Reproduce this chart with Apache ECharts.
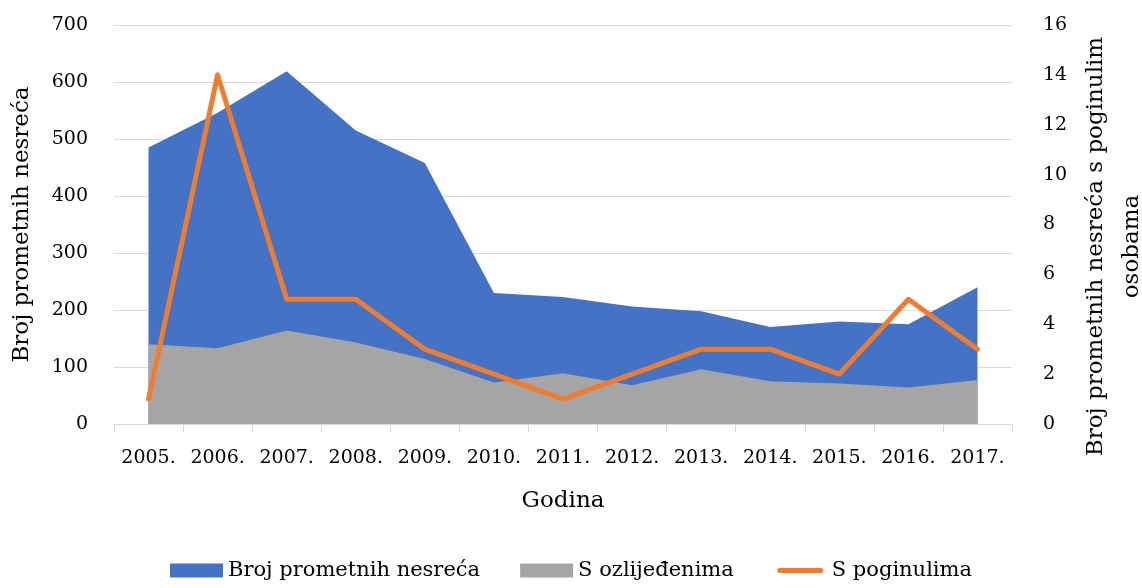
<!DOCTYPE html>
<html>
<head>
<meta charset="utf-8">
<script src="https://cdn.jsdelivr.net/npm/echarts@6/dist/echarts.min.js"></script>
<style>
  html, body { margin: 0; padding: 0; background: #fff; }
  #chart { width: 1142px; height: 588px; }
</style>
</head>
<body>
<div id="chart"></div>
<script>
const years = ['2005.', '2006.', '2007.', '2008.', '2009.', '2010.', '2011.', '2012.', '2013.', '2014.', '2015.', '2016.', '2017.'];
const totalAccidents = [485, 546, 619, 515, 458, 230, 223, 206, 198, 170, 180, 175, 240];
const withInjured = [140, 133, 164, 143, 114, 73, 89, 68, 96, 75, 71, 64, 77];
const withKilled = [1, 14, 5, 5, 3, 2, 1, 2, 3, 3, 2, 5, 3];
const leftTicks = [0, 700, 100];
const rightTicks = [0, 16, 2];

const font = 'DejaVu Serif';
const chart = echarts.init(document.getElementById('chart'));

// rounded bar inside a 53x14 box, used as legend icon for the line series
const lineIcon = 'path://M0,0 L0.01,0 Z M53,14 L52.99,14 Z M6,4.5 L47,4.5 A2.5,2.5,0,0,1,47,9.5 L6,9.5 A2.5,2.5,0,0,1,6,4.5 Z';

const option = {
  animation: false,
  textStyle: { fontFamily: font, color: '#000' },
  grid: { left: 114, right: 130, top: 25, bottom: 164, containLabel: false, outerBoundsMode: 'none' },
  legend: {
    bottom: 2,
    left: 'center',
    itemWidth: 53,
    itemHeight: 14,
    itemGap: 40,
    textStyle: { fontFamily: font, fontSize: 21, color: '#000' },
    data: [
      { name: 'Broj prometnih nesreća', icon: 'rect' },
      { name: 'S ozlijeđenima', icon: 'rect' },
      { name: 'S poginulima', icon: lineIcon }
    ]
  },
  xAxis: {
    type: 'category',
    data: years,
    boundaryGap: true,
    name: 'Godina',
    nameLocation: 'middle',
    nameGap: 66,
    nameTextStyle: { fontFamily: font, fontSize: 23, color: '#000' },
    axisLine: { lineStyle: { color: '#D9D9D9', width: 1 } },
    axisTick: { show: true, length: 8, lineStyle: { color: '#D9D9D9' } },
    axisLabel: { fontFamily: font, fontSize: 19, color: '#000', margin: 25, interval: 0 }
  },
  yAxis: [
    {
      type: 'value',
      min: leftTicks[0],
      max: leftTicks[1],
      interval: leftTicks[2],
      name: 'Broj prometnih nesreća',
      nameLocation: 'middle',
      nameGap: 80,
      nameTextStyle: { fontFamily: font, fontSize: 23, color: '#000' },
      axisLine: { show: false },
      axisTick: { show: false },
      axisLabel: { fontFamily: font, fontSize: 19, color: '#000', margin: 26 },
      splitLine: { show: true, lineStyle: { color: '#D9D9D9', width: 1 } }
    },
    {
      type: 'value',
      position: 'right',
      min: rightTicks[0],
      max: rightTicks[1],
      interval: rightTicks[2],
      name: 'Broj prometnih nesreća s poginulim\nosobama',
      nameLocation: 'middle',
      nameGap: 64,
      nameTextStyle: {
        fontFamily: font, fontSize: 23, color: '#000',
        lineHeight: 36, align: 'center', padding: [0, 44, 0, 0]
      },
      axisLine: { show: false },
      axisTick: { show: false },
      axisLabel: { fontFamily: font, fontSize: 19, color: '#000', margin: 31 },
      splitLine: { show: false }
    }
  ],
  series: [
    {
      name: 'Broj prometnih nesreća',
      type: 'line',
      data: totalAccidents,
      symbol: 'none',
      lineStyle: { width: 0 },
      itemStyle: { color: '#4472C4' },
      areaStyle: { color: '#4472C4', opacity: 1 },
      z: 1
    },
    {
      name: 'S ozlijeđenima',
      type: 'line',
      data: withInjured,
      symbol: 'none',
      lineStyle: { width: 0 },
      itemStyle: { color: '#A5A5A5' },
      areaStyle: { color: '#A5A5A5', opacity: 1 },
      z: 2
    },
    {
      name: 'S poginulima',
      type: 'line',
      yAxisIndex: 1,
      data: withKilled,
      symbol: 'none',
      itemStyle: { color: '#ED7D31' },
      lineStyle: { color: '#ED7D31', width: 5, cap: 'round', join: 'round' },
      z: 3
    }
  ]
};

chart.setOption(option);
window.addEventListener('resize', function () {
  chart.resize();
});
</script>
</body>
</html>
